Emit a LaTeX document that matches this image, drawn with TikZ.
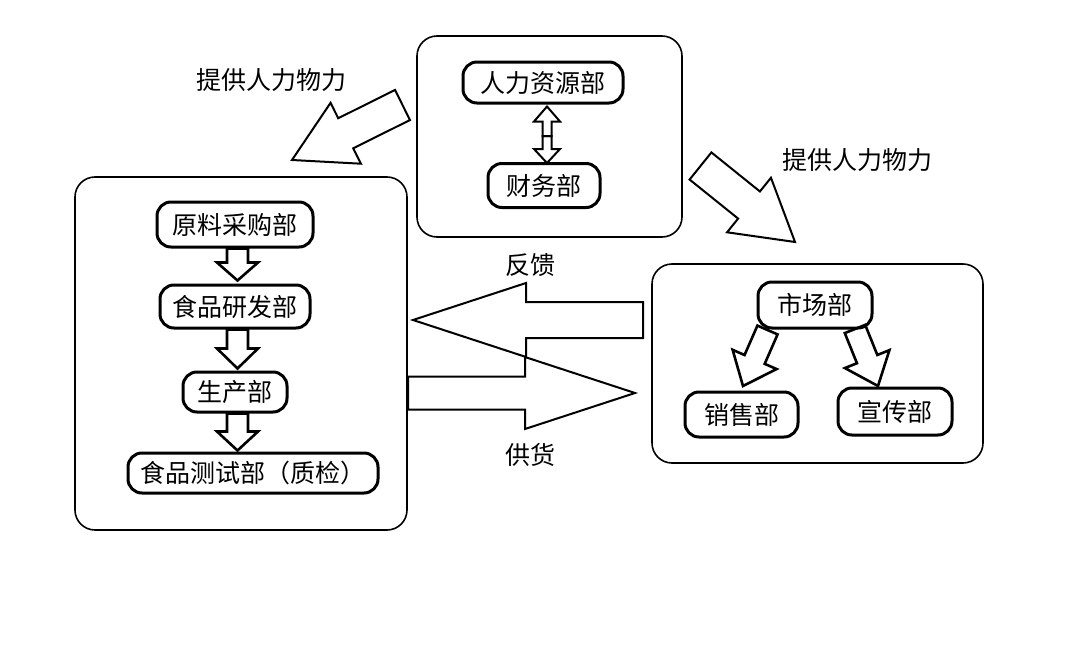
\documentclass[tikz,border=0pt]{standalone}
\usepackage{fontspec}
\newfontfamily\cjk{Noto Sans CJK SC}
\usetikzlibrary{calc}
\tikzset{
  box/.style={draw, line width=1.6pt, rounded corners=20pt, inner sep=0pt},
  dept/.style={draw, line width=3pt, rounded corners=14pt, inner sep=0pt, font=\cjk\fontsize{25}{29}\selectfont},
  lbl/.style={inner sep=0pt, font=\cjk\fontsize{25}{29}\selectfont},
  barrow/.style={draw, line width=2pt, line join=miter},
  thickarrow/.style={line width=2.6pt},
}
% #1 options, #2 start, #3 tip, #4 shaft half width, #5 head half width, #6 head length
\newcommand\blockarrow[6][]{%
  \coordinate (ba-base) at ($(#3)!#6!(#2)$);
  \draw[barrow,#1] ($(#2)!#4!90:(#3)$) -- ($(ba-base)!#4!90:(#3)$) -- ($(ba-base)!#5!90:(#3)$)
    -- (#3) -- ($(ba-base)!#5!-90:(#3)$) -- ($(ba-base)!#4!-90:(#3)$) -- ($(#2)!#4!-90:(#3)$) -- cycle;
}
\begin{document}
\begin{tikzpicture}[x=1pt,y=-1pt]
\fill[white] (0,0) rectangle (1080,645);
\useasboundingbox (0,0) rectangle (1080,645);

% container boxes
\node[box, minimum width=265, minimum height=201] (top) at (549.5,136.5) {};
\node[box, minimum width=332, minimum height=353] (left) at (241,353.5) {};
\node[box, minimum width=331, minimum height=199] (right) at (817.5,363.5) {};

% departments
\node[dept, minimum width=160, minimum height=41] (hr) at (543,82.5) {人力资源部};
\node[dept, minimum width=112, minimum height=44] (fin) at (544,185.5) {财务部};
\node[dept, minimum width=156, minimum height=45] (raw) at (235,224.5) {原料采购部};
\node[dept, minimum width=150, minimum height=43] (rd) at (235,306.5) {食品研发部};
\node[dept, minimum width=104, minimum height=40] (prod) at (235,392) {生产部};
\node[dept, minimum width=250, minimum height=40] (qa) at (253,473) {食品测试部（质检）};
\node[dept, minimum width=114, minimum height=46] (mkt) at (815,305) {市场部};
\node[dept, minimum width=113, minimum height=45] (sales) at (741.5,414.5) {销售部};
\node[dept, minimum width=114, minimum height=47] (pr) at (895,411.5) {宣传部};

% labels
\node[lbl] (l1) at (271,80) {提供人力物力};
\node[lbl] (l2) at (857,160) {提供人力物力};
\node[lbl] (l3) at (530,265) {反馈};
\node[lbl] (l4) at (530,455) {供货};

% HR <-> finance
\coordinate (dm) at (547,136);
\coordinate (dt) at ($(hr.south)+(4,2)$);
\coordinate (db) at ($(fin.north)+(3,1)$);
\blockarrow{dm}{dt}{4.5pt}{13pt}{15pt}
\blockarrow{dm}{db}{4.5pt}{13pt}{14pt}

% production chain
\coordinate (a1s) at ($(raw.south)+(2.5,0)$);
\coordinate (a1e) at ($(rd.north)+(2.5,-3)$);
\blockarrow[thickarrow]{a1s}{a1e}{10.5pt}{20.5pt}{18pt}
\coordinate (a2s) at ($(rd.south)+(2.5,0)$);
\coordinate (a2e) at ($(prod.north)+(2.5,-2)$);
\blockarrow[thickarrow]{a2s}{a2e}{10.5pt}{20.5pt}{20pt}
\coordinate (a3s) at ($(prod.south)+(2.5,0)$);
\coordinate (a3e) at ($(qa.north)+(-15.5,-1)$);
\blockarrow[thickarrow]{a3s}{a3e}{10.5pt}{20.5pt}{19pt}

% market -> sales / PR
\coordinate (m1s) at (767.5,330);
\coordinate (m1e) at (743,386);
\blockarrow[thickarrow]{m1s}{m1e}{11pt}{24pt}{29pt}
\coordinate (m2s) at (855,329);
\coordinate (m2e) at (878,386);
\blockarrow[thickarrow]{m2s}{m2e}{11pt}{24pt}{29pt}

% resources arrows
\coordinate (r1s) at (402.5,105);
\coordinate (r1e) at (292,160);
\blockarrow{r1s}{r1e}{16.8pt}{34pt}{60pt}
\coordinate (r2s) at (700.5,166);
\coordinate (r2e) at (795,242);
\blockarrow{r2s}{r2e}{17.4pt}{35pt}{59pt}

% feedback and supply
\coordinate (fbs) at (643,320);
\coordinate (fbe) at (413,320);
\blockarrow{fbs}{fbe}{18pt}{37pt}{113pt}
\coordinate (sps) at (408,393);
\coordinate (spe) at (635,393);
\blockarrow{sps}{spe}{16.5pt}{36pt}{110pt}
\end{tikzpicture}
\end{document}
